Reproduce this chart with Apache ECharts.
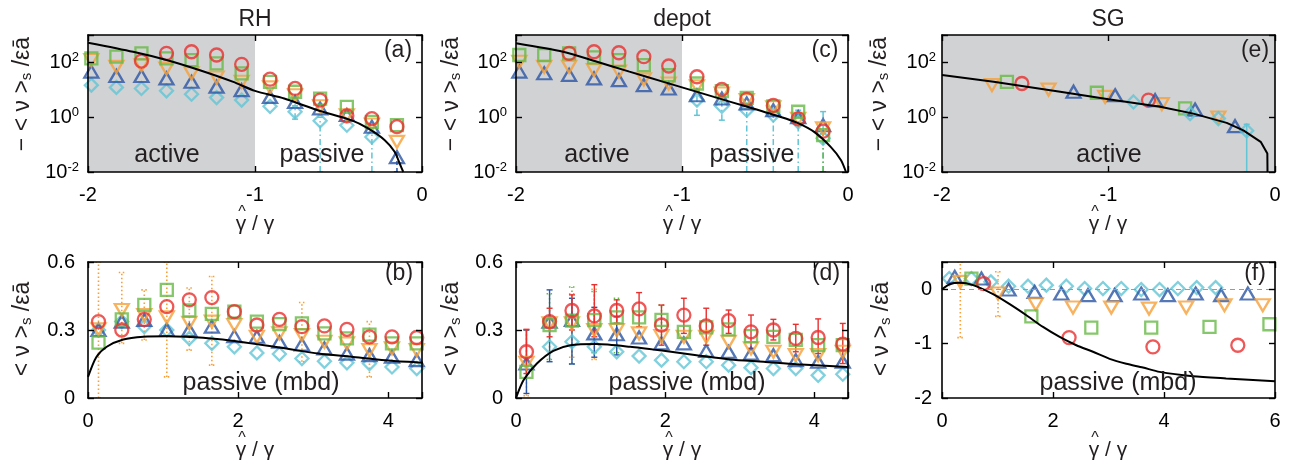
<!DOCTYPE html>
<html>
<head>
<meta charset="utf-8">
<script src="https://cdn.jsdelivr.net/npm/echarts@6/dist/echarts.min.js"></script>
<style>
  html, body { margin: 0; padding: 0; background: #fff; }
  #chart { width: 1293px; height: 463px; }
</style>
</head>
<body>
<div id="chart"></div>
<script>
// ---------- data: top row, -<v>_s vs gamma-hat/gamma (log scale) ----------
const xTop = [-1.98, -1.83, -1.68, -1.53, -1.38, -1.23, -1.08, -0.91, -0.76, -0.61, -0.45, -0.30, -0.15];

// (a) RH
const aRed    = [null, null, 112, 214, 245, 186, 85, 24.5, 11.2, 4.2, 1.12, 0.89, 0.45];
const aGreen  = [141, 162, 214, 141, 122, 92, 40, 19.6, 8.5, 4.8, 2.4, 0.67, 0.51];
const aOrange = [122, 69, 79, 60, 40, 28, 19.6, 12.2, 6.3, 2.5, 1.17, 0.54, 0.126];
const aBlue   = [46, 32, 32, 26, 19.6, 13, 9.7, 5.5, 3.6, 2.1, 1.2, 0.45, 0.035];
const aCyan   = [14.8, 12.2, 11.2, 9.2, 6.9, 5.2, 4.2, 2.5, 1.58, 0.74, 0.51, 0.19, null];
const aTheory = [[-2.0, 525], [-1.73, 245], [-1.53, 123], [-1.33, 52], [-1.13, 19.5], [-1.0, 9.1],
                 [-0.825, 4.8], [-0.624, 1.8], [-0.424, 0.78], [-0.323, 0.39], [-0.223, 0.145],
                 [-0.163, 0.054], [-0.133, 0.02], [-0.112, 0.01]];
const aCyanErr = [[-0.76, 0.85, 2.6], [-0.61, 0.01, 1.0], [-0.30, 0.01, 0.30]];
const aBlueErr = [[-0.15, 0.01, 0.05]];
const aShade = [-2, -1];

// (c) depot
const cRed    = [null, null, 214, 245, 225, 162, 74, 30, 10.3, 4.5, 2.7, 0.87, 0.31];
const cGreen  = [186, 186, 214, 152, 122, 80, 34, 17, 9, 5.1, 2.5, 1.58, 0.22];
const cOrange = [106, 69, 69, 52, 46, 24, 17, 13.5, 7.3, 4.2, 2.3, 0.87, 0.39];
const cBlue   = [46, 40, 35, 26, 22.5, 14.8, 11.2, 6.3, 4.8, 3.2, 1.8, 1.0, 0.51];
const cCyan   = [null, null, null, null, null, null, null, 4.2, 2.5, 1.8, 1.2, 0.67, 0.17];
const cTheory = [[-2.0, 500], [-1.716, 245], [-1.512, 105], [-1.317, 46], [-1.111, 19.5], [-1.0, 12.3],
                 [-0.808, 5.5], [-0.607, 2.4], [-0.405, 1.02], [-0.304, 0.62], [-0.204, 0.29],
                 [-0.103, 0.081], [-0.042, 0.027], [-0.012, 0.01]];
const cCyanErr = [[-0.91, 1.17, 9.8], [-0.76, 0.78, 5.5], [-0.61, 0.01, 2.0], [-0.45, 0.01, 1.2],
                  [-0.30, 0.01, 1.8], [-0.15, 0.01, 1.6]];
const cGreenErr = [[-0.15, 0.01, 0.25]];
const cShade = [-2, -1];

// (e) SG
const eRed    = [[-1.52, 17], [-0.76, 4.2]];
const eGreen  = [[-1.61, 19.5], [-1.07, 7.8], [-0.54, 2.1]];
const eOrange = [[-1.70, 14.8], [-1.36, 10.2], [-1.02, 5.5], [-0.68, 3.0], [-0.34, 0.98]];
const eBlue   = [[-1.21, 8.5], [-0.96, 6.3], [-0.72, 4.2], [-0.48, 1.9], [-0.24, 0.47]];
const eCyan   = [[-0.85, 3.6], [-0.51, 1.35], [-0.34, 0.89], [-0.17, 0.32]];
const eTheory = [[-2.0, 34.7], [-1.69, 19.5], [-1.29, 8.5], [-1.0, 4.5], [-0.69, 2.4], [-0.49, 1.35],
                 [-0.29, 0.62], [-0.19, 0.33], [-0.086, 0.126], [-0.046, 0.047], [-0.045, 0.01]];
const eCyanErr = [[-0.17, 0.01, 0.55]];
const eShade = [-2, 0];

// ---------- data: bottom row, <v>_s vs gamma-hat/gamma ----------
const xBottom = [0.14, 0.45, 0.75, 1.05, 1.35, 1.65, 1.95, 2.25, 2.55, 2.85, 3.15, 3.45, 3.75, 4.05, 4.38];

// (b) RH
const bRed    = [0.337, 0.300, 0.347, 0.403, 0.433, 0.443, 0.381, 0.322, 0.347, 0.315, 0.318, 0.303, 0.270, 0.270, 0.267];
const bGreen  = [0.244, 0.347, 0.411, 0.477, 0.386, 0.371, 0.381, 0.337, 0.326, 0.329, 0.285, 0.263, 0.280, 0.241, 0.241];
const bOrange = [0.303, 0.388, 0.366, 0.356, 0.332, 0.337, 0.322, 0.270, 0.285, 0.278, 0.248, 0.241, 0.211, 0.219, 0.211];
const bBlue   = [0.300, 0.337, 0.344, 0.300, 0.300, 0.315, 0.273, 0.270, 0.248, 0.236, 0.219, 0.196, 0.189, 0.182, 0.167];
const bCyan   = [0.300, 0.337, 0.315, 0.300, 0.263, 0.241, 0.226, 0.199, 0.194, 0.174, 0.162, 0.155, 0.152, 0.137, 0.130];
const bTheory = [[0, 0.093], [0.11, 0.18], [0.25, 0.226], [0.47, 0.258], [0.74, 0.27], [1.05, 0.272],
                 [1.3, 0.27], [1.72, 0.26], [2.17, 0.241], [2.62, 0.219], [3.07, 0.196], [3.51, 0.182],
                 [3.96, 0.167], [4.47, 0.155]];
const bOrangeErr = [[0.14, 0, 0.6], [0.45, 0.241, 0.554], [0.75, 0.256, 0.477], [1.05, 0.093, 0.6],
                    [1.35, 0.211, 0.485], [1.65, 0.145, 0.536], [2.85, 0.16, 0.421], [3.75, 0.093, 0.337]];

// (d) depot
const dRed    = [0.204, 0.337, 0.386, 0.362, 0.386, 0.393, 0.322, 0.366, 0.318, 0.341, 0.292, 0.300, 0.263, 0.267, 0.238];
const dGreen  = [0.115, 0.322, 0.341, 0.344, 0.356, 0.356, 0.345, 0.292, 0.312, 0.303, 0.273, 0.270, 0.256, 0.233, 0.233];
const dOrange = [0.155, 0.329, 0.329, 0.300, 0.300, 0.285, 0.273, 0.270, 0.270, 0.248, 0.219, 0.204, 0.189, 0.189, 0.204];
const dBlue   = [0.152, 0.337, 0.344, 0.285, 0.281, 0.267, 0.241, 0.241, 0.208, 0.204, 0.196, 0.189, 0.167, 0.160, 0.160];
const dCyan   = [null, 0.226, 0.248, 0.226, 0.204, 0.185, 0.167, 0.160, 0.160, 0.145, 0.134, 0.130, 0.130, 0.100, 0.105];
const dTheory = [[0, 0], [0.1, 0.078], [0.28, 0.152], [0.5, 0.208], [0.73, 0.233], [1.08, 0.238],
                 [1.53, 0.226], [1.98, 0.208], [2.42, 0.189], [2.87, 0.17], [3.32, 0.16], [3.76, 0.149],
                 [4.45, 0.137]];
const dRedErr = [[0.14, 0.108, 0.303], [0.45, 0.27, 0.396], [0.75, 0.30, 0.455], [1.05, 0.27, 0.5],
                 [1.35, 0.33, 0.433], [1.65, 0.315, 0.465], [1.95, 0.233, 0.41], [2.25, 0.285, 0.44],
                 [2.55, 0.233, 0.396], [2.85, 0.285, 0.388], [3.15, 0.219, 0.366], [3.45, 0.256, 0.347],
                 [3.75, 0.204, 0.325], [4.05, 0.196, 0.349], [4.38, 0.152, 0.329]];
const dBlueErr = [[0.14, 0.02, 0.30], [0.45, 0.16, 0.477], [0.75, 0.15, 0.44], [1.05, 0.18, 0.40], [1.35, 0.19, 0.36]];
const dGreenErr = [[0.45, 0.17, 0.46], [0.75, 0.15, 0.49], [1.05, 0.2, 0.47], [1.35, 0.2, 0.44], [1.95, 0.24, 0.41]];
const dOrangeErr = [[0.14, 0.01, 0.30], [0.75, 0.18, 0.46], [1.05, 0.17, 0.48]];

// (f) SG
const fRed    = [[0.75, 0.104], [2.29, -0.89], [3.80, -1.06], [5.33, -1.03]];
const fGreen  = [[0.53, 0.196], [1.61, -0.50], [2.69, -0.706], [3.77, -0.706], [4.82, -0.693], [5.90, -0.644]];
const fOrange = [[0.33, 0.135], [1.01, -0.08], [1.69, -0.276], [2.36, -0.337], [3.05, -0.337], [3.73, -0.356],
                 [4.40, -0.337], [5.09, -0.294], [5.78, -0.294]];
const fBlue   = [[0.23, 0.227], [0.71, 0.196], [1.2, -0.006], [1.67, -0.05], [2.15, -0.08], [2.63, -0.11],
                 [3.11, -0.11], [3.59, -0.08], [4.07, -0.11], [4.57, -0.08], [5.03, -0.11], [5.51, -0.08]];
const fCyan   = [[0.13, 0.196], [0.53, 0.196], [0.88, 0.135], [1.2, 0.055], [1.55, 0.055], [1.88, 0.074],
                 [2.24, 0.055], [2.57, 0.012], [2.9, 0.012], [3.23, 0.012], [3.59, -0.006], [3.92, -0.006],
                 [4.25, 0.012], [4.59, 0.03], [4.93, 0.03]];
const fTheory = [[0, 0], [0.14, 0.092], [0.32, 0.117], [0.56, 0.074], [0.92, -0.092], [1.22, -0.276],
                 [1.52, -0.479], [1.82, -0.693], [2.12, -0.877], [2.42, -1.03], [2.72, -1.15], [3.02, -1.28],
                 [3.32, -1.37], [3.62, -1.44], [3.92, -1.52], [4.52, -1.6], [5.12, -1.64], [6.0, -1.69]];
const fOrangeErr = [[0.33, -0.89, 0.5], [1.01, -0.50, 0.32]];
const fZeroLine = 0;

// ---------- styling ----------
const FONT = '"Liberation Sans", Arial, Helvetica, sans-serif';
const INK = '#231f20';
const RED = '#e8302e', GREEN = '#66b945', ORANGE = '#f6a03a', BLUE = '#2a55a4', CYAN = '#62c4d5';
const SHADE = '#d1d2d4';

// panel order: 0 (a), 1 (c), 2 (e), 3 (b), 4 (d), 5 (f)
const grids = [
  { left: 88,  top: 35,  width: 334, height: 137 },
  { left: 516, top: 35,  width: 332, height: 137 },
  { left: 942, top: 35,  width: 333, height: 137 },
  { left: 88,  top: 262, width: 334, height: 136 },
  { left: 516, top: 262, width: 332, height: 136 },
  { left: 942, top: 262, width: 333, height: 136 }
];
const xRanges = [[-2, 0, 1], [-2, 0, 1], [-2, 0, 1], [0, 4.45, 2], [0, 4.45, 2], [0, 6, 2]];
const yRanges = [null, null, null, [0, 0.6, 0.3], [0, 0.6, 0.3], [-2, 0.5, 1]];
const yMargins = [9, 9, 6, 13, 13, 10];

const lineStyleAxis = { color: '#000', width: 1.6 };
const tickStyle = { show: true, inside: true, length: 6, lineStyle: { color: '#000', width: 1.4 } };

function linearFmt(step) {
  return function (v) {
    const k = v / step;
    if (Math.abs(k - Math.round(k)) > 1e-6) return '';
    return String(Math.round(v * 1000) / 1000);
  };
}
function logFmt(v) {
  const l = Math.log10(v);
  const e = Math.round(l);
  if (Math.abs(l - e) > 1e-6 || e % 2 !== 0) return '';
  return '{b|10}{sup|' + e + '}';
}

const xAxes = [], yAxes = [];
grids.forEach((g, i) => {
  const [xmin, xmax, xstep] = xRanges[i];
  const xBase = {
    gridIndex: i, type: 'value', min: xmin, max: xmax, interval: xstep, z: 6,
    axisLine: { show: true, onZero: false, lineStyle: lineStyleAxis },
    axisTick: tickStyle, splitLine: { show: false }
  };
  xAxes.push(Object.assign({}, xBase, {
    position: 'bottom',
    axisLabel: { show: true, color: '#000', fontSize: 20, fontFamily: FONT, margin: 13, formatter: linearFmt(xstep) }
  }));
  xAxes.push(Object.assign({}, xBase, { position: 'top', axisLabel: { show: false } }));

  let yBase;
  if (yRanges[i] === null) {
    yBase = { gridIndex: i, type: 'log', logBase: 10, min: 0.01, max: 1000, interval: 2 };
  } else {
    const [ymin, ymax, ystep] = yRanges[i];
    yBase = { gridIndex: i, type: 'value', min: ymin, max: ymax, interval: ystep };
  }
  Object.assign(yBase, {
    z: 6, axisLine: { show: true, onZero: false, lineStyle: lineStyleAxis },
    axisTick: tickStyle, splitLine: { show: false }, minorTick: { show: false }
  });
  const isLog = yRanges[i] === null;
  yAxes.push(Object.assign({}, yBase, {
    position: 'left',
    axisLabel: {
      show: true, color: '#000', fontSize: 20, fontFamily: FONT, margin: yMargins[i],
      formatter: isLog ? logFmt : linearFmt(yRanges[i][2]),
      rich: isLog ? {
        b: { fontSize: 20, fontFamily: FONT, color: '#000' },
        sup: { fontSize: 13, fontFamily: FONT, color: '#000', verticalAlign: 'top', padding: [0, 0, 10, 0] }
      } : undefined
    }
  }));
  yAxes.push(Object.assign({}, yBase, { position: 'right', axisLabel: { show: false } }));
});

// ---------- series helpers ----------
function pairs(xs, ys) {
  const out = [];
  xs.forEach((x, k) => { if (ys[k] != null) out.push([x, ys[k]]); });
  return out;
}
const SYM = {
  red:    { symbol: 'circle',   size: 13,       rotate: 0,   color: RED },
  green:  { symbol: 'rect',     size: 12,       rotate: 0,   color: GREEN },
  orange: { symbol: 'triangle', size: [14, 12], rotate: 180, color: ORANGE },
  blue:   { symbol: 'triangle', size: [14, 12], rotate: 0,   color: BLUE },
  cyan:   { symbol: 'diamond',  size: [13, 13], rotate: 0,   color: CYAN }
};
function scatter(p, kind, data) {
  const s = SYM[kind];
  return {
    type: 'scatter', xAxisIndex: p * 2, yAxisIndex: p * 2, data: data, silent: true, z: 3,
    symbol: s.symbol, symbolSize: s.size, symbolRotate: s.rotate,
    itemStyle: { color: 'rgba(255,255,255,0)', borderColor: s.color, borderWidth: 2.3 }
  };
}
function theory(p, data, extra) {
  return Object.assign({
    type: 'line', xAxisIndex: p * 2, yAxisIndex: p * 2, data: data, silent: true, z: 4,
    showSymbol: false, symbol: 'none', smooth: 0.25,
    lineStyle: { color: '#000', width: 2 }
  }, extra || {});
}
function errbars(p, data, color, dash, width) {
  return {
    type: 'custom', xAxisIndex: p * 2, yAxisIndex: p * 2, data: data, silent: true, z: 3, clip: true,
    encode: { x: 0, y: [1, 2] },
    renderItem: function (params, api) {
      const x = api.value(0);
      const a = api.coord([x, api.value(1)]);
      const b = api.coord([x, api.value(2)]);
      const st = { stroke: color, lineWidth: width, lineDash: dash, fill: null };
      const cap = 3;
      return {
        type: 'group',
        children: [
          { type: 'line', shape: { x1: a[0], y1: a[1], x2: b[0], y2: b[1] }, style: st },
          { type: 'line', shape: { x1: a[0] - cap, y1: a[1], x2: a[0] + cap, y2: a[1] }, style: st },
          { type: 'line', shape: { x1: b[0] - cap, y1: b[1], x2: b[0] + cap, y2: b[1] }, style: st }
        ]
      };
    }
  };
}
function shade(range) {
  return {
    silent: true,
    itemStyle: { color: SHADE, borderWidth: 0 },
    label: { show: false },
    data: [[{ xAxis: range[0] }, { xAxis: range[1] }]]
  };
}

const DOT = [1.5, 2.5], DASHDOT = [6, 3, 1.5, 3], DASH = [4, 3];

const series = [
  // (a)
  errbars(0, aCyanErr, CYAN, DASHDOT, 1.5),
  errbars(0, aBlueErr, BLUE, DASH, 1.5),
  scatter(0, 'cyan', pairs(xTop, aCyan)),
  scatter(0, 'blue', pairs(xTop, aBlue)),
  scatter(0, 'orange', pairs(xTop, aOrange)),
  scatter(0, 'green', pairs(xTop, aGreen)),
  scatter(0, 'red', pairs(xTop, aRed)),
  theory(0, aTheory, { markArea: shade(aShade) }),
  // (c)
  errbars(1, cCyanErr, CYAN, DASHDOT, 1.5),
  errbars(1, cGreenErr, GREEN, DASHDOT, 1.5),
  scatter(1, 'cyan', pairs(xTop, cCyan)),
  scatter(1, 'blue', pairs(xTop, cBlue)),
  scatter(1, 'orange', pairs(xTop, cOrange)),
  scatter(1, 'green', pairs(xTop, cGreen)),
  scatter(1, 'red', pairs(xTop, cRed)),
  theory(1, cTheory, { markArea: shade(cShade) }),
  // (e)
  errbars(2, eCyanErr, CYAN, null, 1.5),
  scatter(2, 'orange', eOrange),
  scatter(2, 'green', eGreen),
  scatter(2, 'red', eRed),
  scatter(2, 'blue', eBlue),
  scatter(2, 'cyan', eCyan),
  theory(2, eTheory, { smooth: false, markArea: shade(eShade) }),
  // (b)
  errbars(3, bOrangeErr, ORANGE, DOT, 1.6),
  scatter(3, 'cyan', pairs(xBottom, bCyan)),
  scatter(3, 'blue', pairs(xBottom, bBlue)),
  scatter(3, 'orange', pairs(xBottom, bOrange)),
  scatter(3, 'green', pairs(xBottom, bGreen)),
  scatter(3, 'red', pairs(xBottom, bRed)),
  theory(3, bTheory),
  // (d)
  errbars(4, dGreenErr, GREEN, DOT, 1.5),
  errbars(4, dOrangeErr, ORANGE, DOT, 1.5),
  errbars(4, dBlueErr, BLUE, null, 1.4),
  errbars(4, dRedErr, RED, null, 1.4),
  scatter(4, 'cyan', pairs(xBottom, dCyan)),
  scatter(4, 'blue', pairs(xBottom, dBlue)),
  scatter(4, 'orange', pairs(xBottom, dOrange)),
  scatter(4, 'green', pairs(xBottom, dGreen)),
  scatter(4, 'red', pairs(xBottom, dRed)),
  theory(4, dTheory),
  // (f)
  errbars(5, fOrangeErr, ORANGE, DOT, 1.6),
  scatter(5, 'cyan', fCyan),
  scatter(5, 'blue', fBlue),
  scatter(5, 'orange', fOrange),
  scatter(5, 'green', fGreen),
  scatter(5, 'red', fRed),
  theory(5, fTheory, {
    markLine: {
      silent: true, symbol: ['none', 'none'], label: { show: false },
      lineStyle: { color: '#9a9a9a', type: [5, 4], width: 1.2 },
      data: [{ yAxis: fZeroLine }]
    }
  })
];

// ---------- text ----------
function txt(x, y, text, size, extra) {
  return {
    type: 'text', x: x, y: y, z: 20, silent: true,
    style: Object.assign({ text: text, fill: INK, fontSize: size, fontFamily: FONT, align: 'center', verticalAlign: 'middle' }, extra || {})
  };
}
const yNameRich = {
  m: { fontSize: 23, fontFamily: FONT, fill: INK, color: INK },
  s: { fontSize: 15, fontFamily: FONT, fill: INK, color: INK, verticalAlign: 'bottom', padding: [8, 0, 0, 0] }
};
function yName(x, y, neg) {
  return {
    type: 'text', x: x, y: y, rotation: Math.PI / 2, z: 20, silent: true,
    style: {
      text: '{m|' + (neg ? '− ' : '') + '< ν >}{s|s}{m| /εā}',
      rich: yNameRich, fill: INK, fontSize: 23, fontFamily: FONT, align: 'center', verticalAlign: 'middle'
    }
  };
}
function xName(cx, cy) {
  return [txt(cx, cy, 'γ / γ', 21), txt(cx - 13, cy - 11, '^', 16)];
}

const graphic = [
  txt(255, 20, 'RH', 23), txt(682, 20, 'depot', 23), txt(1108, 20, 'SG', 23),
  txt(398, 51, '(a)', 23), txt(825, 51, '(c)', 23), txt(1255, 51, '(e)', 23),
  txt(399, 274, '(b)', 23), txt(826, 274, '(d)', 23), txt(1255, 274, '(f)', 23),
  txt(167, 155, 'active', 25), txt(322, 155, 'passive', 25),
  txt(597, 155, 'active', 25), txt(752, 155, 'passive', 25),
  txt(1109, 155, 'active', 25),
  txt(261, 383, 'passive (mbd)', 25), txt(687, 383, 'passive (mbd)', 25), txt(1118, 383, 'passive (mbd)', 25),
  yName(23, 94, true), yName(452, 94, true), yName(880, 94, true),
  yName(23, 329, false), yName(452, 329, false), yName(882, 329, false)
].concat(xName(255, 224), xName(682, 224), xName(1108, 224),
         xName(255, 450), xName(682, 450), xName(1108, 450));

const chart = echarts.init(document.getElementById('chart'), null, { renderer: 'canvas' });
chart.setOption({
  animation: false,
  backgroundColor: '#fff',
  textStyle: { fontFamily: FONT },
  grid: grids.map(g => Object.assign({ show: false, containLabel: false }, g)),
  xAxis: xAxes,
  yAxis: yAxes,
  series: series,
  graphic: graphic
});
</script>
</body>
</html>
